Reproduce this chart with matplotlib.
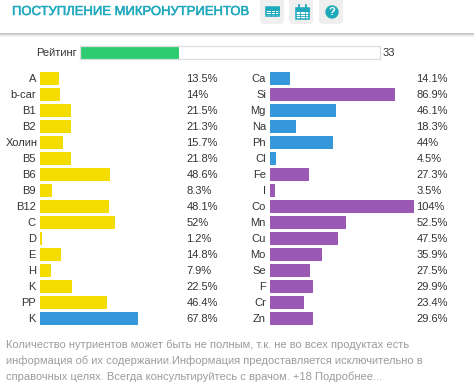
import matplotlib
matplotlib.use("Agg")
import matplotlib.pyplot as plt
from matplotlib.patches import FancyBboxPatch, Rectangle, Circle
import matplotlib.patheffects as pe

plt.rcParams['font.family'] = ['Liberation Sans', 'DejaVu Sans']

W, H = 474, 391

title = "ПОСТУПЛЕНИЕ МИКРОНУТРИЕНТОВ"
rating_label = "Рейтинг"
rating = 33

vit_names = ["A", "b-car", "B1", "B2", "Холин", "B5", "B6", "B9", "B12", "C", "D", "E", "H", "K", "PP", "K"]
vit_values = [13.5, 14, 21.5, 21.3, 15.7, 21.8, 48.6, 8.3, 48.1, 52, 1.2, 14.8, 7.9, 22.5, 46.4, 67.8]
vit_labels = ["13.5%", "14%", "21.5%", "21.3%", "15.7%", "21.8%", "48.6%", "8.3%", "48.1%", "52%", "1.2%", "14.8%", "7.9%", "22.5%", "46.4%", "67.8%"]
vit_colors = ["y"] * 15 + ["b"]

min_names = ["Ca", "Si", "Mg", "Na", "Ph", "Cl", "Fe", "I", "Co", "Mn", "Cu", "Mo", "Se", "F", "Cr", "Zn"]
min_values = [14.1, 86.9, 46.1, 18.3, 44, 4.5, 27.3, 3.5, 104, 52.5, 47.5, 35.9, 27.5, 29.9, 23.4, 29.6]
min_labels = ["14.1%", "86.9%", "46.1%", "18.3%", "44%", "4.5%", "27.3%", "3.5%", "104%", "52.5%", "47.5%", "35.9%", "27.5%", "29.9%", "23.4%", "29.6%"]
min_colors = ["b", "p", "b", "b", "b", "b", "p", "p", "p", "p", "p", "p", "p", "p", "p", "p"]

note = ["Количество нутриентов может быть не полным, т.к. не во всех продуктах есть",
        "информация об их содержании.Информация предоставляется исключительно в",
        "справочных целях. Всегда консультируйтесь с врачом. +18 Подробнее..."]

palette = {"y": "#f4dc00", "b": "#3498db", "p": "#9b59b6"}
TEAL = "#1fa9bd"
TEXT = "#333333"


def px_axes(fig, x0, y0, x1, y1):
    # axes placed by pixel box, y counted from the top of the picture
    return fig.add_axes([x0 / W, 1 - y1 / H, (x1 - x0) / W, (y1 - y0) / H])


fig = plt.figure(figsize=(W / 100, H / 100), dpi=100, facecolor="white")

# page layer in pixel coordinates
bg = fig.add_axes([0, 0, 1, 1])
bg.set_xlim(0, W)
bg.set_ylim(H, 0)
bg.axis("off")

# header shadow
for i, c in enumerate(["#c4c4c4", "#d6d6d6", "#e8e8e8", "#f5f5f5"]):
    bg.add_patch(Rectangle((0, 33 + i), W, 1, fc=c, ec="none"))

t = bg.text(12, 12, title, color=TEAL, fontsize=9.4, va="center", ha="left")
t.set_path_effects([pe.withStroke(linewidth=0.35, foreground=TEAL)])

# icon buttons
for x0 in [260, 289, 319]:
    bg.add_patch(FancyBboxPatch((x0 + 3.5, -6), 17, 26.5, boxstyle="round,pad=0,rounding_size=0.1",
                                fc="#efefef", ec="#efefef", lw=5, joinstyle="round"))

# table icon
bg.add_patch(Rectangle((266.5, 7), 13, 9, fc="white", ec=TEAL, lw=1.1))
bg.add_patch(Rectangle((266.5, 7), 13, 2.5, fc=TEAL, ec=TEAL, lw=0.8))
for x in [270.8, 275.2]:
    bg.plot([x, x], [7, 16], color=TEAL, lw=0.7)
for y in [11.5, 13.8]:
    bg.plot([266.5, 279.5], [y, y], color=TEAL, lw=0.7)

# calendar icon
bg.add_patch(Rectangle((296, 8), 13, 10.5, fc="white", ec=TEAL, lw=1.1))
bg.add_patch(Rectangle((296, 8), 13, 2.5, fc=TEAL, ec=TEAL, lw=0.8))
for x in [299.2, 305.8]:
    bg.plot([x, x], [5, 9], color=TEAL, lw=1.3)
for x in [300.3, 304.7]:
    bg.plot([x, x], [11, 18.5], color=TEAL, lw=0.6)
for y in [13.5, 16]:
    bg.plot([296, 309], [y, y], color=TEAL, lw=0.6)

# help icon
bg.add_patch(Circle((332, 12), 6.7, fc=TEAL, ec="none"))
bg.text(332, 12.3, "?", color="white", fontsize=8, fontweight="bold", ha="center", va="center")

# rating bar
ax_r = px_axes(fig, 80, 46, 380, 59)
ax_r.barh([0], [rating], height=1, color="#2ecc71")
ax_r.set_xlim(0, 100)
ax_r.set_ylim(-0.5, 0.5)
ax_r.set_xticks([])
ax_r.set_yticks([])
for s in ax_r.spines.values():
    s.set_color("#dddddd")
    s.set_linewidth(0.9)
bg.text(77, 52.5, rating_label, color=TEXT, fontsize=8, ha="right", va="center")
bg.text(383, 52.5, str(rating), color=TEXT, fontsize=8, ha="left", va="center")


def draw_col(x0, names, values, colors, labels, label_x):
    ax = px_axes(fig, x0, 70.5, x0 + 144, 326.5)
    ax.patch.set_alpha(0)
    rows = list(range(len(names)))
    ax.barh(rows, values, height=13 / 16, color=[palette[c] for c in colors])
    ax.set_xlim(0, 100)
    ax.set_ylim(15.5, -0.5)
    ax.set_xticks([])
    ax.set_yticks([])
    for s in ax.spines.values():
        s.set_visible(False)
    for r, (name, lab) in enumerate(zip(names, labels)):
        y = 78.5 + 16 * r
        # long name runs past the label column in the original
        name_x = x0 - 2 if name == "Холин" else x0 - 4
        bg.text(name_x, y, name, color=TEXT, fontsize=8, ha="right", va="center")
        bg.text(label_x, y, lab, color=TEXT, fontsize=8, ha="left", va="center")


draw_col(40, vit_names, vit_values, vit_colors, vit_labels, 186.3)
draw_col(270, min_names, min_values, min_colors, min_labels, 416.3)

for i, line in enumerate(note):
    bg.text(6.5, 344.7 + 16 * i, line, color="#9c9c9c", fontsize=7.97, ha="left", va="center")

fig.savefig("out.png", dpi=100)
